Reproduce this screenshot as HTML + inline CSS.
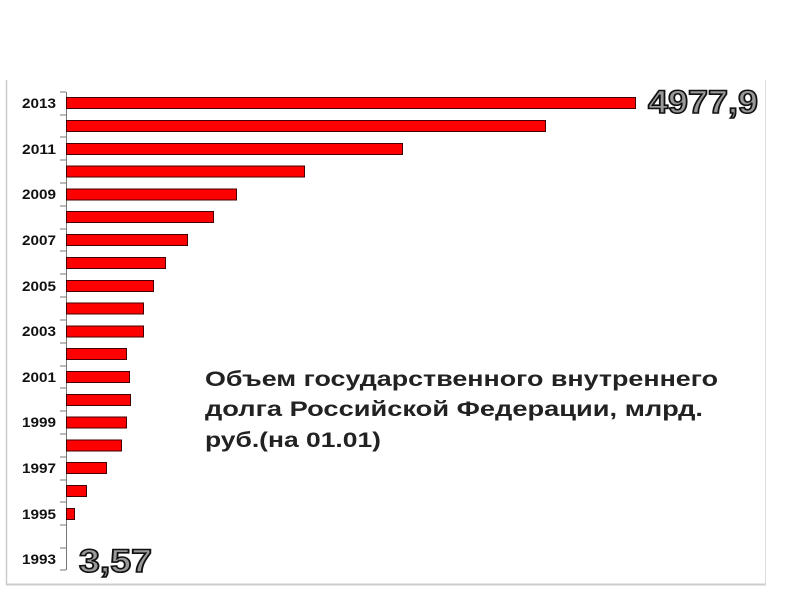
<!DOCTYPE html>
<html><head><meta charset="utf-8"><style>
html,body{margin:0;padding:0;background:#fff;}
svg{display:block;}
</style></head><body>
<svg width="800" height="600" viewBox="0 0 800 600" xmlns="http://www.w3.org/2000/svg">
<rect width="800" height="600" fill="#fff"/>
<line x1="6.5" y1="80" x2="6.5" y2="585" stroke="#ccc" stroke-width="1.5"/>
<line x1="6" y1="584.5" x2="766" y2="584.5" stroke="#ccc" stroke-width="2"/>
<line x1="765.5" y1="80" x2="765.5" y2="585" stroke="#ddd" stroke-width="1"/>
<line x1="66.5" y1="92" x2="66.5" y2="570" stroke="#777" stroke-width="1"/>
<g stroke="#777" stroke-width="1">
<line x1="60" y1="92" x2="66" y2="92"/><line x1="60" y1="115" x2="66" y2="115"/><line x1="60" y1="137" x2="66" y2="137"/><line x1="60" y1="160" x2="66" y2="160"/><line x1="60" y1="183" x2="66" y2="183"/><line x1="60" y1="206" x2="66" y2="206"/><line x1="60" y1="229" x2="66" y2="229"/><line x1="60" y1="251" x2="66" y2="251"/><line x1="60" y1="274" x2="66" y2="274"/><line x1="60" y1="297" x2="66" y2="297"/><line x1="60" y1="320" x2="66" y2="320"/><line x1="60" y1="343" x2="66" y2="343"/><line x1="60" y1="366" x2="66" y2="366"/><line x1="60" y1="388" x2="66" y2="388"/><line x1="60" y1="411" x2="66" y2="411"/><line x1="60" y1="434" x2="66" y2="434"/><line x1="60" y1="457" x2="66" y2="457"/><line x1="60" y1="480" x2="66" y2="480"/><line x1="60" y1="502" x2="66" y2="502"/><line x1="60" y1="525" x2="66" y2="525"/><line x1="60" y1="548" x2="66" y2="548"/><line x1="60" y1="570" x2="66" y2="570"/>
</g>
<g fill="#f00" stroke="#400" stroke-width="1">
<rect x="66.5" y="97.5" width="569" height="11"/>
<rect x="66.5" y="120.5" width="479" height="11"/>
<rect x="66.5" y="143.5" width="336" height="11"/>
<rect x="66.5" y="166" width="238" height="11"/>
<rect x="66.5" y="189" width="170" height="11"/>
<rect x="66.5" y="211.5" width="147" height="11"/>
<rect x="66.5" y="234.5" width="121" height="11"/>
<rect x="66.5" y="257.5" width="99" height="11"/>
<rect x="66.5" y="280.5" width="87" height="11"/>
<rect x="66.5" y="303" width="77" height="11"/>
<rect x="66.5" y="326" width="77" height="11"/>
<rect x="66.5" y="348.5" width="60" height="11"/>
<rect x="66.5" y="371.5" width="63" height="11"/>
<rect x="66.5" y="394.5" width="64" height="11"/>
<rect x="66.5" y="417" width="60" height="11"/>
<rect x="66.5" y="440" width="55" height="11"/>
<rect x="66.5" y="462.5" width="40" height="11"/>
<rect x="66.5" y="485.5" width="20" height="11"/>
<rect x="66.5" y="508.5" width="8" height="11"/>
</g>
<g font-family="Liberation Sans, sans-serif" font-weight="bold" font-size="14" fill="#111">
<text x="22" y="108" textLength="34" lengthAdjust="spacingAndGlyphs">2013</text>
<text x="22" y="154" textLength="34" lengthAdjust="spacingAndGlyphs">2011</text>
<text x="22" y="199" textLength="34" lengthAdjust="spacingAndGlyphs">2009</text>
<text x="22" y="245" textLength="34" lengthAdjust="spacingAndGlyphs">2007</text>
<text x="22" y="291" textLength="34" lengthAdjust="spacingAndGlyphs">2005</text>
<text x="22" y="336" textLength="34" lengthAdjust="spacingAndGlyphs">2003</text>
<text x="22" y="382" textLength="34" lengthAdjust="spacingAndGlyphs">2001</text>
<text x="22" y="427" textLength="34" lengthAdjust="spacingAndGlyphs">1999</text>
<text x="22" y="473" textLength="34" lengthAdjust="spacingAndGlyphs">1997</text>
<text x="22" y="519" textLength="34" lengthAdjust="spacingAndGlyphs">1995</text>
<text x="22" y="564" textLength="34" lengthAdjust="spacingAndGlyphs">1993</text>
</g>
<g font-family="Liberation Sans, sans-serif" font-weight="bold" font-size="32" fill="#999" stroke="#111" stroke-width="1.6">
<text x="648" y="113" textLength="110" lengthAdjust="spacingAndGlyphs">4977,9</text>
<text x="79" y="572" textLength="73" lengthAdjust="spacingAndGlyphs">3,57</text>
</g>
<g font-family="Liberation Sans, sans-serif" font-weight="bold" font-size="21" fill="#222">
<text x="205" y="386" textLength="513" lengthAdjust="spacingAndGlyphs">Объем государственного внутреннего</text>
<text x="205" y="416" textLength="498" lengthAdjust="spacingAndGlyphs">долга Российской Федерации, млрд.</text>
<text x="205" y="447" textLength="176" lengthAdjust="spacingAndGlyphs">руб.(на 01.01)</text>
</g>
</svg>
</body></html>
